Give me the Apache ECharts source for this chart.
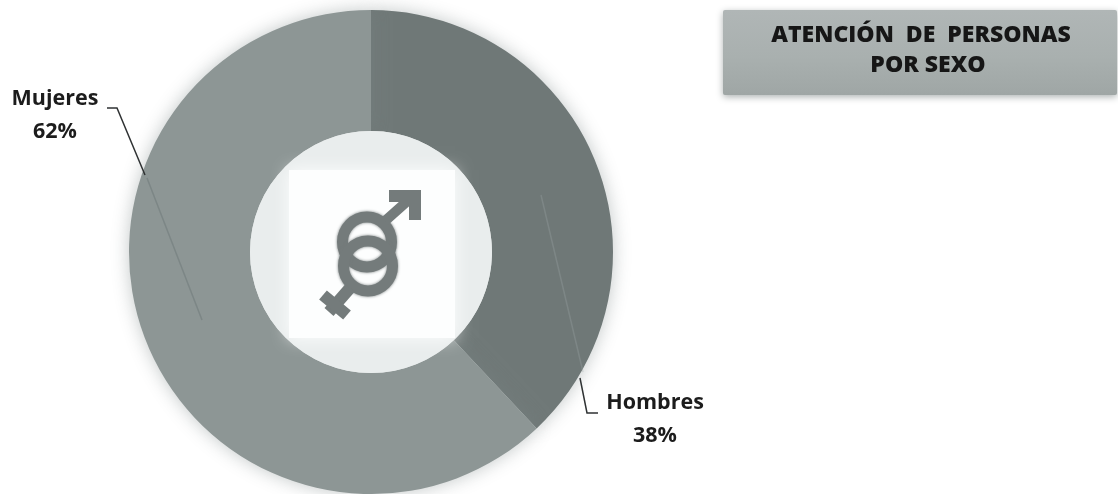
<!DOCTYPE html>
<html><head><meta charset="utf-8">
<style>html,body{margin:0;padding:0;background:#fff}#c{width:1118px;height:494px}</style>
<script src="https://cdn.jsdelivr.net/npm/echarts@6/dist/echarts.min.js"></script>
</head><body><div id="c"></div>
<script>
const categories = ['Hombres', 'Mujeres'];
const values = [38, 62];
const colors = ['#6f7877', '#8d9695'];
const titleLines = ['ATENCIÓN  DE  PERSONAS', 'POR SEXO'];
const font = '"Open Sans", "Noto Sans", sans-serif';
const symbolColor = '#747b7b';
const chart = echarts.init(document.getElementById('c'), null, {renderer: 'canvas'});
const ringStyle = {fill: 'none', stroke: symbolColor, lineWidth: 11, shadowBlur: 3, shadowColor: symbolColor};
const titleFont = '800 23px "Open Sans", sans-serif';
chart.setOption({
  animation: false,
  backgroundColor: '#fff',
  graphic: [
    {type: 'rect', z: 1, shape: {x: 723, y: 10, width: 394, height: 85, r: 2},
      style: {fill: {type: 'linear', x: 0, y: 0, x2: 0, y2: 1, colorStops: [
        {offset: 0, color: '#b0b6b6'}, {offset: 0.55, color: '#a9b0af'}, {offset: 1, color: '#9fa6a5'}]},
        shadowBlur: 7, shadowColor: 'rgba(90,100,100,0.5)', shadowOffsetY: 2}},
    {type: 'text', z: 2, x: 921, y: 35, style: {text: titleLines[0], font: titleFont, fill: '#161616', align: 'center', verticalAlign: 'middle'}},
    {type: 'text', z: 2, x: 928, y: 65, style: {text: titleLines[1], font: titleFont, fill: '#161616', align: 'center', verticalAlign: 'middle'}},
    {type: 'circle', z: 5, shape: {cx: 371, cy: 252, r: 121}, style: {fill: '#e9eded'}},
    {type: 'rect', z: 6, shape: {x: 289, y: 170, width: 166, height: 168}, style: {fill: '#fdfefe', shadowBlur: 16, shadowColor: '#fdfefe'}},
    {type: 'ellipse', z: 7, shape: {cx: 367, cy: 242, rx: 24.5, ry: 25}, style: ringStyle},
    {type: 'ellipse', z: 7, shape: {cx: 368, cy: 266, rx: 24.5, ry: 25}, style: ringStyle},
    {type: 'line', z: 7, shape: {x1: 385, y1: 221, x2: 412, y2: 197}, style: {stroke: symbolColor, lineWidth: 10}},
    {type: 'polygon', z: 7, shape: {points: [[389,190],[421,190],[421,220],[409,220],[409,202],[389,202]]}, style: {fill: symbolColor}},
    {type: 'line', z: 7, shape: {x1: 350, y1: 288, x2: 329, y2: 312}, style: {stroke: symbolColor, lineWidth: 12}},
    {type: 'line', z: 7, shape: {x1: 323, y1: 295, x2: 347, y2: 315}, style: {stroke: symbolColor, lineWidth: 12}},
    {type: 'line', z: 7, shape: {x1: 147, y1: 178, x2: 202, y2: 320}, style: {stroke: 'rgba(105,115,115,0.45)', lineWidth: 1.5}},
    {type: 'line', z: 7, shape: {x1: 541, y1: 195, x2: 583, y2: 372}, style: {stroke: 'rgba(160,170,170,0.3)', lineWidth: 1.5}},
    {type: 'polyline', z: 8, shape: {points: [[107,108],[117,108],[145,175]]}, style: {stroke: '#2f3233', lineWidth: 1.5, fill: 'none'}},
    {type: 'polyline', z: 8, shape: {points: [[580,378],[587,413],[598,413]]}, style: {stroke: '#2f3233', lineWidth: 1.5, fill: 'none'}}
  ],
  series: [{
    type: 'pie', z: 3,
    center: [371, 252], radius: [121, 242], startAngle: 90, clockwise: true,
    itemStyle: {shadowBlur: 18, shadowColor: 'rgba(120,130,130,0.45)'},
    label: {show: true, formatter: '{b}\n{c}%', fontFamily: font, fontSize: 21.5, fontWeight: 700, color: '#1c1c1c', lineHeight: 33, align: 'center'},
    labelLine: {show: false},
    labelLayout: (p) => p.dataIndex === 0
      ? {x: 655, y: 419, align: 'center', verticalAlign: 'middle'}
      : {x: 55, y: 115, align: 'center', verticalAlign: 'middle'},
    emphasis: {disabled: true},
    data: categories.map((n, i) => ({name: n, value: values[i], itemStyle: {color: colors[i]}}))
  }]
});
</script></body></html>
